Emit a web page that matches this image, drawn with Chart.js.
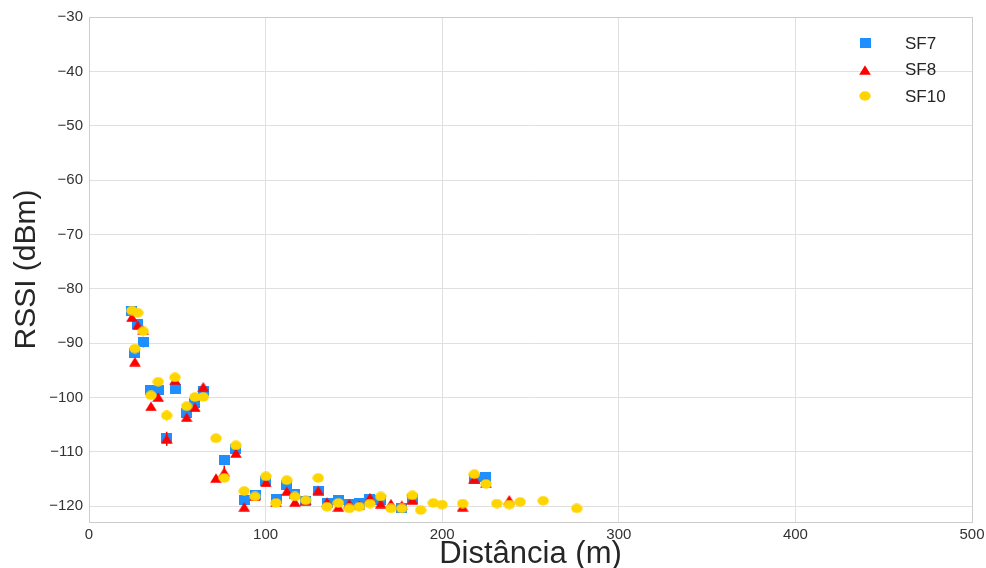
<!DOCTYPE html>
<html>
<head>
<meta charset="utf-8">
<script src="https://cdn.jsdelivr.net/npm/chart.js@4/dist/chart.umd.min.js"></script>
<style>
  html, body { margin: 0; padding: 0; background: #ffffff; }
  #wrap { width: 986px; height: 568px; }
</style>
</head>
<body>
<div id="wrap"><canvas id="c" width="986" height="568"></canvas></div>
<script>
// Axis ticks
const xTicks = [0, 100, 200, 300, 400, 500];
const yTicks = [-120, -110, -100, -90, -80, -70, -60, -50, -40, -30];

// SF7 measurements: distance (m), mean RSSI (dBm), spread (dB)
const sf7Dist = [24.3, 27.6, 26.0, 30.7, 35.1, 39.2, 44.0, 48.7, 55.3, 60.0, 64.7, 76.6, 83.2, 87.9, 94.0,
                 100.2, 105.9, 112.0, 116.6, 122.7, 129.8, 134.8, 141.2, 147.4, 153.1, 159.1, 165.2, 177.1, 183.1,
                 218.2, 224.8];
const sf7Rssi = [-84.1, -86.4, -91.8, -89.8, -98.7, -98.7, -107.5, -98.5, -102.9, -101.1, -98.8, -111.5, -109.4, -118.9, -118.0,
                 -115.4, -118.6, -116.1, -117.7, -119.1, -117.2, -119.4, -118.8, -119.5, -119.4, -118.6, -118.8, -120.4, -118.6,
                 -114.9, -114.7];
const sf7Err  = [0.4, 0.4, 0.5, 1.0, 0.5, 0.4, 0.6, 0.4, 1.4, 0.5, 0.4, 0.8, 0.5, 0.4, 0.4,
                 0.4, 0.4, 0.4, 0.4, 0.4, 0.4, 0.4, 0.4, 0.4, 0.4, 0.4, 0.4, 0.4, 0.4,
                 0.4, 0.4];

// SF8 measurements
const sf8Dist = [24.3, 27.6, 26.0, 30.7, 35.1, 39.2, 44.0, 48.7, 55.3, 60.0, 64.7, 71.9, 76.6, 83.2, 87.9,
                 94.0, 100.2, 105.9, 112.0, 116.6, 122.7, 129.8, 134.8, 141.2, 147.4, 153.1, 159.1, 165.2, 171.0,
                 177.1, 183.1, 211.6, 218.2, 224.8, 238.0];
const sf8Rssi = [-85.2, -86.7, -93.4, -87.6, -101.6, -99.9, -107.6, -96.8, -103.6, -101.8, -98.0, -114.8, -113.7, -110.2, -120.1,
                 -118.2, -115.6, -119.2, -117.2, -119.2, -118.9, -117.1, -119.2, -120.1, -119.5, -119.8, -118.4, -119.5, -119.5,
                 -119.8, -118.8, -120.1, -114.9, -115.7, -118.8];
const sf8Err  = [0.4, 0.4, 0.4, 0.4, 0.5, 0.4, 1.3, 0.4, 0.5, 0.4, 0.4, 0.4, 1.2, 0.5, 0.4,
                 0.4, 0.4, 0.4, 0.4, 0.4, 0.4, 0.4, 0.4, 0.4, 0.4, 0.4, 0.5, 0.4, 0.4,
                 0.4, 0.4, 0.4, 0.4, 0.4, 0.5];

// SF10 measurements
const sf10Dist = [24.3, 27.6, 26.0, 30.7, 35.1, 39.2, 44.0, 48.7, 55.3, 60.0, 64.7, 71.9, 76.6, 83.2, 87.9,
                  94.0, 100.2, 105.9, 112.0, 116.6, 122.7, 129.8, 134.8, 141.2, 147.4, 153.1, 159.1, 165.2, 171.0,
                  177.1, 183.1, 187.8, 195.0, 199.9, 211.6, 218.2, 224.8, 230.9, 238.0, 244.1, 257.2, 276.2];
const sf10Rssi = [-84.0, -84.4, -91.0, -87.8, -99.6, -97.1, -103.3, -96.3, -101.6, -99.9, -99.9, -107.5, -114.8, -108.8, -117.2,
                  -118.2, -114.5, -119.4, -115.2, -118.2, -118.9, -114.8, -120.1, -119.4, -120.4, -120.1, -119.5, -118.2, -120.4,
                  -120.4, -118.0, -120.7, -119.4, -119.7, -119.5, -114.1, -115.9, -119.5, -119.7, -119.2, -119.0, -120.4];
const sf10Err  = [0.4, 0.4, 0.4, 0.4, 0.4, 0.4, 1.0, 0.4, 0.4, 0.4, 0.4, 0.5, 0.4, 0.4, 0.4,
                  0.4, 0.4, 0.4, 0.4, 0.4, 0.4, 0.4, 0.4, 0.4, 0.4, 0.4, 0.4, 0.4, 0.4,
                  0.4, 0.4, 0.4, 0.4, 0.4, 0.4, 0.4, 0.4, 0.4, 0.4, 0.4, 0.4, 0.4];

const COLORS = { sf7: '#1e8fff', sf8: '#ff0000', sf10: '#ffd500' };
const TEXT = '#262626';
const FONT = "'Liberation Sans', Arial, sans-serif";

// Small marker images (slightly wider than tall)
function makeMarker(shape, color, w, h) {
  const cv = document.createElement('canvas');
  cv.width = w; cv.height = h;
  const g = cv.getContext('2d');
  g.fillStyle = color;
  g.beginPath();
  if (shape === 'square') {
    g.rect(0, 0, w, h);
  } else if (shape === 'triangle') {
    g.moveTo(w / 2, 0.2);
    g.lineTo(w - 0.2, h - 0.2);
    g.lineTo(0.2, h - 0.2);
    g.closePath();
  } else {
    g.ellipse(w / 2, h / 2, w / 2 - 0.3, h / 2 - 0.3, 0, 0, Math.PI * 2);
  }
  g.fill();
  return cv;
}

const pts = (xs, ys) => xs.map((x, i) => ({ x: x, y: ys[i] }));

const datasets = [
  { label: 'SF7', data: pts(sf7Dist, sf7Rssi), err: sf7Err, color: COLORS.sf7,
    pointStyle: makeMarker('square', COLORS.sf7, 11, 10), order: 2 },
  { label: 'SF8', data: pts(sf8Dist, sf8Rssi), err: sf8Err, color: COLORS.sf8,
    pointStyle: makeMarker('triangle', COLORS.sf8, 12, 10), order: 1 },
  { label: 'SF10', data: pts(sf10Dist, sf10Rssi), err: sf10Err, color: COLORS.sf10,
    pointStyle: makeMarker('ellipse', COLORS.sf10, 12, 10), order: 0 }
].map(d => Object.assign(d, {
  showLine: false,
  backgroundColor: d.color,
  borderColor: d.color,
  pointRadius: 5,
  pointHoverRadius: 5
}));

// Vertical error bars, drawn just before each series' markers
const errorBars = {
  id: 'errorBars',
  beforeDatasetDraw(chart, args) {
    const ds = chart.data.datasets[args.index];
    const meta = args.meta;
    const ys = chart.scales.y;
    const ctx = chart.ctx;
    ctx.save();
    ctx.strokeStyle = ds.color;
    ctx.lineWidth = 1.5;
    meta.data.forEach((el, i) => {
      const e = ds.err[i] || 0;
      if (!e) return;
      const v = ds.data[i].y;
      ctx.beginPath();
      ctx.moveTo(el.x, ys.getPixelForValue(v - e));
      ctx.lineTo(el.x, ys.getPixelForValue(v + e));
      ctx.stroke();
    });
    ctx.restore();
  }
};

// Light frame around the plotting area
const frame = {
  id: 'frame',
  beforeDatasetsDraw(chart) {
    const a = chart.chartArea;
    const ctx = chart.ctx;
    ctx.save();
    ctx.strokeStyle = '#cccccc';
    ctx.lineWidth = 1;
    ctx.strokeRect(Math.round(a.left) + 0.5, Math.round(a.top) + 0.5,
                   Math.round(a.right - a.left), Math.round(a.bottom - a.top));
    ctx.restore();
  }
};

// Legend in the upper-right corner of the plot
const cornerLegend = {
  id: 'cornerLegend',
  afterDraw(chart) {
    const ctx = chart.ctx;
    const a = chart.chartArea;
    const mx = a.right - 107, tx = a.right - 67;
    ctx.save();
    ctx.font = '17px ' + FONT;
    ctx.fillStyle = TEXT;
    ctx.textBaseline = 'middle';
    ctx.textAlign = 'left';
    chart.data.datasets.forEach((ds, i) => {
      const y = a.top + 26 + i * 26.5;
      const img = ds.pointStyle;
      ctx.drawImage(img, Math.round(mx - img.width / 2), Math.round(y - img.height / 2));
      ctx.fillText(ds.label, tx, y + 1);
    });
    ctx.restore();
  }
};

const minus = v => String(v).replace('-', '\u2212');

new Chart(document.getElementById('c'), {
  type: 'scatter',
  data: { datasets: datasets },
  plugins: [frame, errorBars, cornerLegend],
  options: {
    responsive: false,
    animation: false,
    events: [],
    layout: { padding: { top: 17, right: 14, left: 0, bottom: 0 } },
    plugins: { legend: { display: false }, tooltip: { enabled: false } },
    scales: {
      x: {
        type: 'linear',
        min: 0, max: 500,
        afterBuildTicks: s => { s.ticks = xTicks.map(v => ({ value: v })); },
        afterFit: s => { s.height = 46; s.paddingLeft = 0; s.paddingRight = 0; },
        grid: { color: '#e0e0e0', lineWidth: 1, drawTicks: false },
        border: { display: false },
        ticks: { color: '#333333', font: { family: FONT, size: 15 }, padding: 4, callback: minus },
        title: { display: true, text: 'Distância (m)', color: TEXT,
                 font: { family: FONT, size: 31, lineHeight: 1 }, padding: { top: 0, bottom: -2 } }
      },
      y: {
        type: 'linear',
        min: -122.9, max: -30,
        afterBuildTicks: s => { s.ticks = yTicks.map(v => ({ value: v })); },
        afterFit: s => { s.width = 89; s.paddingTop = 0; s.paddingBottom = 0; },
        grid: { color: '#e0e0e0', lineWidth: 1, drawTicks: false },
        border: { display: false },
        ticks: { color: '#333333', font: { family: FONT, size: 15 }, padding: 6, callback: minus },
        title: { display: true, text: 'RSSI (dBm)', color: TEXT,
                 font: { family: FONT, size: 30, lineHeight: 1 }, padding: { top: 12, bottom: 0 } }
      }
    }
  }
});
</script>
</body>
</html>
